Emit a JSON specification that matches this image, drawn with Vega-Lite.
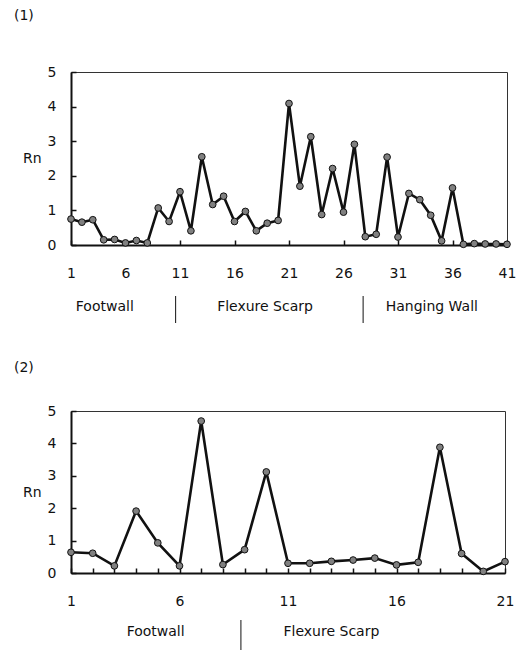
{
  "$schema": "https://vega.github.io/schema/vega-lite/v6.json",
  "padding": {"left": 13, "top": 8, "right": 5, "bottom": 5},
  "background": "white",
  "config": {
    "font": "DejaVu Sans",
    "view": {"stroke": "#333", "strokeWidth": 1},
    "axis": {"labelFont": "DejaVu Sans", "labelFontSize": 14, "labelColor": "#111", "titleColor": "#111", "titleFont": "DejaVu Sans", "titleFontSize": 14, "titleFontWeight": "normal", "domainColor": "#111", "tickColor": "#111", "domainWidth": 2, "tickWidth": 1.5, "grid": false},
    "title": {"fontSize": 14, "fontWeight": "normal", "anchor": "start", "font": "DejaVu Sans", "color": "#111"},
    "text": {"font": "DejaVu Sans", "fontSize": 14, "color": "#111"}
  },
  "datasets": {
    "p1": [
      {"site": 1, "Rn": 0.75}, {"site": 2, "Rn": 0.66}, {"site": 3, "Rn": 0.73}, {"site": 4, "Rn": 0.15}, {"site": 5, "Rn": 0.16},
      {"site": 6, "Rn": 0.06}, {"site": 7, "Rn": 0.13}, {"site": 8, "Rn": 0.06}, {"site": 9, "Rn": 1.07}, {"site": 10, "Rn": 0.68},
      {"site": 11, "Rn": 1.54}, {"site": 12, "Rn": 0.41}, {"site": 13, "Rn": 2.55}, {"site": 14, "Rn": 1.17}, {"site": 15, "Rn": 1.41},
      {"site": 16, "Rn": 0.68}, {"site": 17, "Rn": 0.97}, {"site": 18, "Rn": 0.41}, {"site": 19, "Rn": 0.63}, {"site": 20, "Rn": 0.71},
      {"site": 21, "Rn": 4.09}, {"site": 22, "Rn": 1.70}, {"site": 23, "Rn": 3.13}, {"site": 24, "Rn": 0.88}, {"site": 25, "Rn": 2.21},
      {"site": 26, "Rn": 0.95}, {"site": 27, "Rn": 2.91}, {"site": 28, "Rn": 0.24}, {"site": 29, "Rn": 0.31}, {"site": 30, "Rn": 2.54},
      {"site": 31, "Rn": 0.23}, {"site": 32, "Rn": 1.49}, {"site": 33, "Rn": 1.31}, {"site": 34, "Rn": 0.86}, {"site": 35, "Rn": 0.12},
      {"site": 36, "Rn": 1.65}, {"site": 37, "Rn": 0.02}, {"site": 38, "Rn": 0.04}, {"site": 39, "Rn": 0.03}, {"site": 40, "Rn": 0.03},
      {"site": 41, "Rn": 0.02}
    ],
    "p2": [
      {"site": 1, "Rn": 0.64}, {"site": 2, "Rn": 0.61}, {"site": 3, "Rn": 0.22}, {"site": 4, "Rn": 1.91}, {"site": 5, "Rn": 0.93},
      {"site": 6, "Rn": 0.22}, {"site": 7, "Rn": 4.69}, {"site": 8, "Rn": 0.26}, {"site": 9, "Rn": 0.72}, {"site": 10, "Rn": 3.12},
      {"site": 11, "Rn": 0.30}, {"site": 12, "Rn": 0.30}, {"site": 13, "Rn": 0.36}, {"site": 14, "Rn": 0.40}, {"site": 15, "Rn": 0.46},
      {"site": 16, "Rn": 0.25}, {"site": 17, "Rn": 0.33}, {"site": 18, "Rn": 3.88}, {"site": 19, "Rn": 0.60}, {"site": 20, "Rn": 0.05},
      {"site": 21, "Rn": 0.35}
    ],
    "r1": [{"region": "Footwall", "mid": 4.1}, {"region": "Flexure Scarp", "mid": 18.8}, {"region": "Hanging Wall", "mid": 34.1}],
    "b1": [{"edge": 10.6}, {"edge": 27.8}],
    "r2": [{"region": "Footwall", "mid": 4.9}, {"region": "Flexure Scarp", "mid": 13.0}],
    "b2": [{"edge": 8.83}]
  },
  "spacing": 36,
  "vconcat": [
    {
      "title": {"text": "(1)", "dx": -8, "offset": 42},
      "spacing": 14,
      "vconcat": [
        {
          "width": 436, "height": 173,
          "data": {"name": "p1"},
          "encoding": {
            "x": {"field": "site", "type": "quantitative", "scale": {"domain": [1, 41], "nice": false, "zero": false},
                  "axis": {"values": [1, 6, 11, 16, 21, 26, 31, 36, 41], "tickSize": -5, "labelPadding": 26, "title": null, "labelFlush": false}},
            "y": {"field": "Rn", "type": "quantitative", "scale": {"domain": [0, 5], "nice": false},
                  "axis": {"values": [0, 1, 2, 3, 4, 5], "tickSize": -5, "labelPadding": 20, "title": "Rn", "titleAngle": 0, "titleAlign": "right", "titleBaseline": "middle", "titlePadding": 6}}
          },
          "layer": [
            {"mark": {"type": "line", "color": "#111", "strokeWidth": 2.6}},
            {"mark": {"type": "circle", "size": 45, "fill": "#808080", "stroke": "#111", "strokeWidth": 1, "opacity": 1}}
          ]
        },
        {
          "width": 436, "height": 27,
          "view": {"stroke": null},
          "layer": [
            {"data": {"name": "b1"}, "mark": {"type": "rule", "color": "#111", "strokeWidth": 1},
             "encoding": {"x": {"field": "edge", "type": "quantitative", "scale": {"domain": [1, 41], "nice": false, "zero": false}, "axis": null}}},
            {"data": {"name": "r1"}, "mark": {"type": "text", "dy": -3},
             "encoding": {"x": {"field": "mid", "type": "quantitative", "scale": {"domain": [1, 41], "nice": false, "zero": false}, "axis": null},
                          "text": {"field": "region"}}}
          ]
        }
      ]
    },
    {
      "title": {"text": "(2)", "dx": -8, "offset": 29},
      "spacing": 10,
      "vconcat": [
        {
          "width": 434, "height": 162,
          "data": {"name": "p2"},
          "encoding": {
            "x": {"field": "site", "type": "quantitative", "scale": {"domain": [1, 21], "nice": false, "zero": false},
                  "axis": {"values": [1, 2, 3, 4, 5, 6, 7, 8, 9, 10, 11, 12, 13, 14, 15, 16, 17, 18, 19, 20, 21], "labelExpr": "(datum.value - 1) % 5 == 0 ? datum.label : ''", "tickSize": -5, "labelPadding": 26, "title": null, "labelFlush": false}},
            "y": {"field": "Rn", "type": "quantitative", "scale": {"domain": [0, 5], "nice": false},
                  "axis": {"values": [0, 1, 2, 3, 4, 5], "tickSize": -5, "labelPadding": 20, "title": "Rn", "titleAngle": 0, "titleAlign": "right", "titleBaseline": "middle", "titlePadding": 6}}
          },
          "layer": [
            {"mark": {"type": "line", "color": "#111", "strokeWidth": 2.6}},
            {"mark": {"type": "circle", "size": 45, "fill": "#808080", "stroke": "#111", "strokeWidth": 1, "opacity": 1}}
          ]
        },
        {
          "width": 434, "height": 30,
          "view": {"stroke": null},
          "layer": [
            {"data": {"name": "b2"}, "mark": {"type": "rule", "color": "#111", "strokeWidth": 1},
             "encoding": {"x": {"field": "edge", "type": "quantitative", "scale": {"domain": [1, 21], "nice": false, "zero": false}, "axis": null}}},
            {"data": {"name": "r2"}, "mark": {"type": "text", "dy": -3},
             "encoding": {"x": {"field": "mid", "type": "quantitative", "scale": {"domain": [1, 21], "nice": false, "zero": false}, "axis": null},
                          "text": {"field": "region"}}}
          ]
        }
      ]
    }
  ]
}
